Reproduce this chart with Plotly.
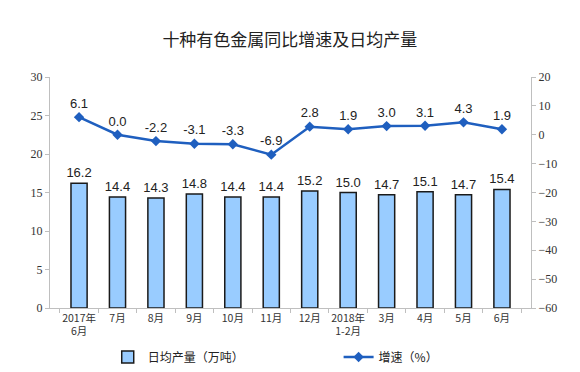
import plotly.graph_objects as go

categories = ["2017年<br>6月", "7月", "8月", "9月", "10月", "11月", "12月",
              "2018年<br>1-2月", "3月", "4月", "5月", "6月"]
daily_output = [16.2, 14.4, 14.3, 14.8, 14.4, 14.4, 15.2, 15.0, 14.7, 15.1, 14.7, 15.4]
growth = [6.1, 0.0, -2.2, -3.1, -3.3, -6.9, 2.8, 1.9, 3.0, 3.1, 4.3, 1.9]
left_ticks = [0, 5, 10, 15, 20, 25, 30]
right_ticks = [-60, -50, -40, -30, -20, -10, 0, 10, 20]

fig = go.Figure()
fig.add_trace(go.Bar(
    x=categories, y=daily_output, name="日均产量（万吨）",
    marker=dict(color="#99ccff", line=dict(color="#1a1a1a", width=1.5)),
    width=0.42,
    text=[f"{v:.1f}" for v in daily_output], textposition="outside",
    constraintext="none",
    textfont=dict(family="Liberation Sans", size=13, color="#222222"),
    cliponaxis=False, legend="legend",
))
fig.add_trace(go.Scatter(
    x=categories, y=growth, name="增速（%）", yaxis="y2",
    mode="lines+markers+text",
    line=dict(color="#1f5fbf", width=2.5),
    marker=dict(symbol="diamond", size=8, color="#1f5fbf"),
    text=[f"{v:.1f}" for v in growth], textposition="top center",
    textfont=dict(family="Liberation Sans", size=13, color="#222222"),
    cliponaxis=False, legend="legend2",
))

legend_font = dict(family="Noto Sans CJK SC", size=12, color="#222222")
fig.update_layout(
    width=580, height=372,
    margin=dict(l=42, r=57, t=69, b=72, autoexpand=False),
    paper_bgcolor="white", plot_bgcolor="white",
    title=dict(text="十种有色金属同比增速及日均产量", x=0.486, xanchor="center",
               y=0.914, yanchor="middle",
               font=dict(family="Noto Sans CJK SC", size=17, color="#222222")),
    showlegend=True,
    legend=dict(orientation="h", x=0.12, xanchor="left", y=0.062, yref="container",
                yanchor="middle", font=legend_font, bgcolor="rgba(0,0,0,0)"),
    legend2=dict(orientation="h", x=0.6, xanchor="left", y=0.062, yref="container",
                 yanchor="middle", font=legend_font, bgcolor="rgba(0,0,0,0)"),
    xaxis=dict(type="category", showline=True, linecolor="#bfbfbf", linewidth=1,
               ticks="outside", tickson="boundaries", ticklen=4, tickcolor="#bfbfbf",
               tickangle=0, automargin=False,
               tickfont=dict(family="Noto Sans CJK SC", size=10.5, color="#333333"),
               showgrid=False),
    yaxis=dict(range=[0, 30], tickvals=left_ticks, showline=True, linecolor="#bfbfbf",
               linewidth=1, ticks="outside", ticklen=4, tickcolor="#bfbfbf",
               showgrid=False, zeroline=False, automargin=False,
               tickfont=dict(family="Liberation Serif", size=12, color="#333333")),
    yaxis2=dict(range=[-60, 20], tickvals=right_ticks, overlaying="y", side="right",
                showline=True, linecolor="#bfbfbf", linewidth=1, ticks="outside",
                ticklen=4, tickcolor="#bfbfbf", showgrid=False, zeroline=False,
                automargin=False,
                tickfont=dict(family="Liberation Serif", size=12, color="#333333")),
)

fig.write_html("out.html")
